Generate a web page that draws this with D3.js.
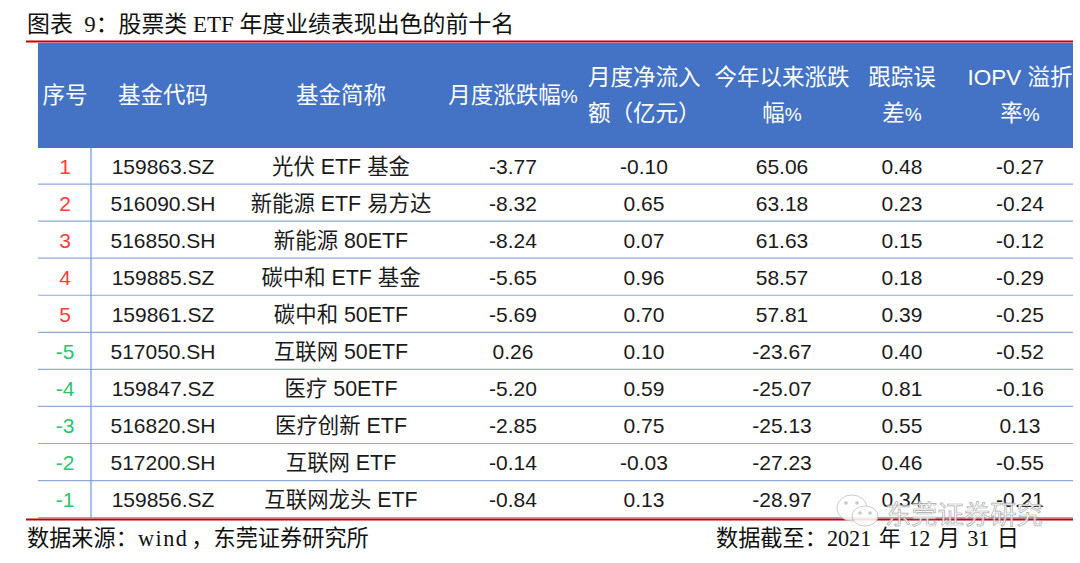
<!DOCTYPE html>
<html>
<head>
<meta charset="utf-8">
<script src="https://cdn.jsdelivr.net/npm/d3@7"></script>
<style>
  html, body { margin: 0; padding: 0; background: #fff; }
  svg { display: block; }
  text { font-family: "Liberation Sans", "Noto Sans CJK SC", sans-serif; white-space: pre; }
  .serif { font-family: "Liberation Serif", "Noto Sans CJK SC", serif; }
  .narrow { font-family: "Liberation Sans Narrow", "Liberation Sans", sans-serif; font-size: 19px; }
</style>
</head>
<body>
<div id="root"></div>
<script>
// \uFF1A \uFF0C \uFF08 \uFF09 are the full-width colon, comma and brackets
const title = '图表  9\uFF1A股票类 ETF 年度业绩表现出色的前十名';
const sourceParts = ['数据来源\uFF1A', 'wind', '\uFF0C东莞证券研究所'];
const dateNote = '数据截至\uFF1A2021 年 12 月 31 日';
const watermark = '东莞证券研究';

const columns = ['rank', 'code', 'name', 'month', 'flow', 'ytd', 'te', 'iopv'];
const headers = [
  ['序号'],
  ['基金代码'],
  ['基金简称'],
  ['月度涨跌幅%'],
  ['月度净流入', '额\uFF08亿元\uFF09'],
  ['今年以来涨跌', '幅%'],
  ['跟踪误', '差%'],
  ['IOPV 溢折', '率%'],
];

const ranks = ['1', '2', '3', '4', '5', '-5', '-4', '-3', '-2', '-1'];
const codes = ['159863.SZ', '516090.SH', '516850.SH', '159885.SZ', '159861.SZ', '517050.SH', '159847.SZ', '516820.SH', '517200.SH', '159856.SZ'];
const names = ['光伏 ETF 基金', '新能源 ETF 易方达', '新能源 80ETF', '碳中和 ETF 基金', '碳中和 50ETF', '互联网 50ETF', '医疗 50ETF', '医疗创新 ETF', '互联网 ETF', '互联网龙头 ETF'];
const monthChange = ['-3.77', '-8.32', '-8.24', '-5.65', '-5.69', '0.26', '-5.20', '-2.85', '-0.14', '-0.84'];
const netFlow = ['-0.10', '0.65', '0.07', '0.96', '0.70', '0.10', '0.59', '0.75', '-0.03', '0.13'];
const ytdChange = ['65.06', '63.18', '61.63', '58.57', '57.81', '-23.67', '-25.07', '-25.13', '-27.23', '-28.97'];
const trackingError = ['0.48', '0.23', '0.15', '0.18', '0.39', '0.40', '0.81', '0.55', '0.46', '0.34'];
const iopvPremium = ['-0.27', '-0.24', '-0.12', '-0.29', '-0.25', '-0.52', '-0.16', '0.13', '-0.55', '-0.21'];

const columnValues = [ranks, codes, names, monthChange, netFlow, ytdChange, trackingError, iopvPremium];
const columnCenters = [65, 163, 341, 513, 644, 782, 902, 1020];

const width = 1080;
const height = 563;
const tableLeft = 38;
const tableRight = 1073;
const ruleLeft = 26;

const svg = d3.select('#root').append('svg')
  .attr('width', width)
  .attr('height', height);

const xScale = d3.scaleOrdinal().domain(columns).range(columnCenters);
const yScale = d3.scaleBand().domain(d3.range(ranks.length)).range([147, 517.6]);

// title
svg.append('text')
  .attr('class', 'serif')
  .attr('x', 27)
  .attr('y', 32)
  .attr('font-size', 22.9)
  .attr('fill', '#111')
  .text(title);

// header block
svg.append('rect')
  .attr('x', tableLeft)
  .attr('y', 43)
  .attr('width', tableRight - tableLeft)
  .attr('height', 105)
  .attr('fill', '#4472c4');

const headerLines = svg.append('g')
  .selectAll('text')
  .data(headers.flatMap((d, i) => d.map((line, j) => ({ line, j, n: d.length, col: columns[i] }))))
  .enter()
  .append('text')
  .attr('font-size', 22.5)
  .attr('fill', '#fff')
  .attr('text-anchor', d => (d.col === 'flow' ? 'start' : 'middle'))
  .attr('x', d => (d.col === 'flow' ? 588 : xScale(d.col)))
  .attr('y', d => (d.n === 1 ? 103 : 85 + d.j * 36));

// the percent sign is set narrower than the rest of the header
headerLines.append('tspan')
  .text(d => d.line.replace('%', ''));
headerLines.filter(d => d.line.endsWith('%'))
  .append('tspan')
  .attr('class', 'narrow')
  .text('%');

// grid lines
svg.append('g')
  .selectAll('line')
  .data(d3.range(1, ranks.length + 1))
  .enter()
  .append('line')
  .attr('x1', tableLeft)
  .attr('x2', tableRight)
  .attr('y1', d => yScale.range()[0] + d * yScale.step())
  .attr('y2', d => yScale.range()[0] + d * yScale.step())
  .attr('stroke', '#8eaadb')
  .attr('stroke-width', 1.2);

svg.append('line')
  .attr('x1', 91)
  .attr('x2', 91)
  .attr('y1', 148)
  .attr('y2', 518)
  .attr('stroke', '#6f94d6')
  .attr('stroke-width', 1.2);

// red rules
svg.selectAll('.rule')
  .data([41.5, 519.5])
  .enter()
  .append('line')
  .attr('class', 'rule')
  .attr('x1', ruleLeft)
  .attr('x2', tableRight)
  .attr('y1', d => d)
  .attr('y2', d => d)
  .attr('stroke', '#c00000')
  .attr('stroke-width', 2);

// table body
columns.forEach((col, c) => {
  svg.append('g')
    .selectAll('text')
    .data(columnValues[c])
    .enter()
    .append('text')
    .attr('x', xScale(col))
    .attr('y', (d, i) => yScale(i) + yScale.bandwidth() / 2 + 8)
    .attr('text-anchor', 'middle')
    .attr('font-size', col === 'name' ? 21.4 : 21)
    .attr('fill', d => {
      if (col !== 'rank') return '#1a1a1a';
      return +d > 0 ? '#ff3b3b' : '#2cc36b';
    })
    .text(d => d);
});

// footnotes
const source = svg.append('text')
  .attr('class', 'serif')
  .attr('x', 27)
  .attr('y', 546)
  .attr('font-size', 22.2)
  .attr('fill', '#111');

source.selectAll('tspan')
  .data(sourceParts)
  .enter()
  .append('tspan')
  .attr('dx', (d, i) => [0, 0, 3][i])
  .attr('letter-spacing', d => (d === 'wind' ? 1.5 : 0))
  .text(d => d);

svg.append('text')
  .attr('class', 'serif')
  .attr('x', 716)
  .attr('y', 546)
  .attr('font-size', 22.2)
  .attr('word-spacing', 1.8)
  .attr('fill', '#111')
  .text(dateNote);

// watermark
const mark = svg.append('g').attr('opacity', 0.85);
[[852, 508, 15, 13], [865, 516, 13, 10]].forEach(([cx, cy, rx, ry]) => {
  mark.append('ellipse')
    .attr('cx', cx)
    .attr('cy', cy)
    .attr('rx', rx)
    .attr('ry', ry)
    .attr('fill', '#fff')
    .attr('stroke', '#c4c4c4')
    .attr('stroke-width', 1);
});
[[846, 503], [857, 503], [860, 513], [870, 513]].forEach(([cx, cy]) => {
  mark.append('circle')
    .attr('cx', cx)
    .attr('cy', cy)
    .attr('r', 1.8)
    .attr('fill', '#bdbdbd');
});
mark.append('text')
  .attr('x', 885)
  .attr('y', 524)
  .attr('font-size', 26.3)
  .attr('fill', '#fff')
  .attr('stroke', '#9a9a9a')
  .attr('stroke-width', 0.7)
  .text(watermark);
</script>
</body>
</html>
